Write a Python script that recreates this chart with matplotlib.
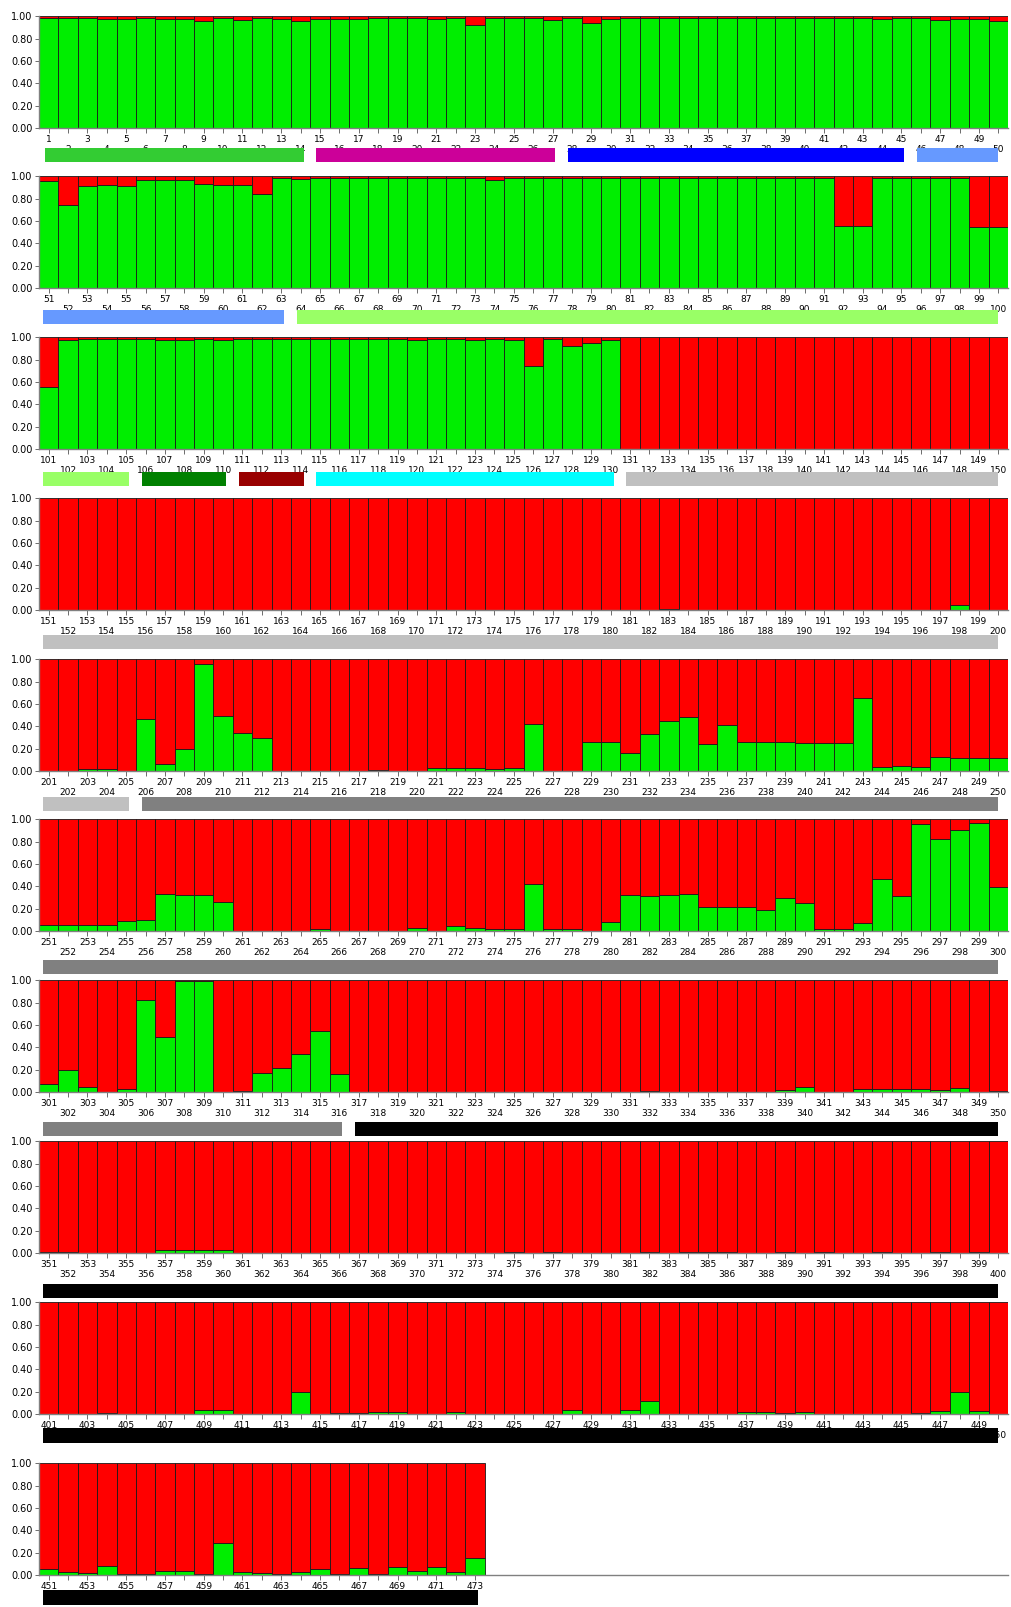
import matplotlib
matplotlib.use('Agg')
import matplotlib.pyplot as plt
import matplotlib.transforms as mtransforms
import numpy as np

# green (cluster 1) membership, 50 individuals per row; red = 1 - green
row1 = [0.985, 0.985, 0.985, 0.975, 0.975, 0.985, 0.98, 0.98, 0.96, 0.985,
        0.97, 0.985, 0.975, 0.96, 0.98, 0.98, 0.98, 0.985, 0.985, 0.985,
        0.975, 0.985, 0.92, 0.985, 0.985, 0.985, 0.97, 0.985, 0.94, 0.975,
        0.985, 0.985, 0.985, 0.985, 0.985, 0.985, 0.985, 0.985, 0.985, 0.985,
        0.985, 0.985, 0.985, 0.975, 0.985, 0.985, 0.965, 0.98, 0.98, 0.96]
row2 = [0.96, 0.745, 0.915, 0.92, 0.915, 0.97, 0.97, 0.97, 0.93, 0.925,
        0.925, 0.845, 0.99, 0.98, 0.99, 0.99, 0.99, 0.99, 0.99, 0.99,
        0.99, 0.99, 0.99, 0.97, 0.99, 0.99, 0.99, 0.99, 0.99, 0.99,
        0.99, 0.99, 0.99, 0.99, 0.99, 0.99, 0.99, 0.99, 0.99, 0.99,
        0.99, 0.555, 0.555, 0.99, 0.99, 0.99, 0.99, 0.99, 0.545, 0.55]
row3 = [0.555, 0.975, 0.99, 0.99, 0.99, 0.99, 0.98, 0.98, 0.99, 0.98,
        0.99, 0.99, 0.99, 0.99, 0.99, 0.99, 0.99, 0.99, 0.99, 0.98,
        0.99, 0.99, 0.975, 0.99, 0.98, 0.745, 0.99, 0.92, 0.95, 0.975,
        0, 0, 0, 0, 0, 0, 0, 0, 0, 0,
        0, 0, 0, 0, 0, 0, 0, 0, 0, 0]
row4 = [0, 0, 0, 0, 0, 0, 0, 0, 0, 0,
        0, 0, 0, 0, 0, 0, 0, 0, 0, 0,
        0, 0, 0, 0, 0, 0, 0, 0, 0, 0,
        0, 0, 0.01, 0, 0, 0, 0, 0, 0, 0,
        0, 0, 0, 0, 0, 0, 0, 0.045, 0, 0]
row5 = [0.005, 0.005, 0.015, 0.015, 0.005, 0.467, 0.06, 0.195, 0.96, 0.497,
        0.342, 0.298, 0.005, 0.005, 0.005, 0.005, 0.005, 0.012, 0.005, 0.005,
        0.03, 0.03, 0.03, 0.02, 0.03, 0.42, 0.005, 0.005, 0.256, 0.256,
        0.158, 0.336, 0.45, 0.48, 0.238, 0.408, 0.26, 0.26, 0.26, 0.253,
        0.253, 0.253, 0.65, 0.035, 0.045, 0.035, 0.13, 0.12, 0.12, 0.12]
row6 = [0.055, 0.055, 0.055, 0.055, 0.092, 0.10, 0.336, 0.325, 0.325, 0.262,
        0.005, 0.005, 0.005, 0.005, 0.02, 0.005, 0.005, 0.005, 0.005, 0.03,
        0.005, 0.05, 0.025, 0.015, 0.015, 0.42, 0.015, 0.015, 0.005, 0.078,
        0.327, 0.318, 0.325, 0.336, 0.217, 0.217, 0.217, 0.187, 0.295, 0.253,
        0.015, 0.015, 0.07, 0.47, 0.318, 0.96, 0.827, 0.908, 0.967, 0.396]
row7 = [0.07, 0.2, 0.045, 0.005, 0.03, 0.827, 0.49, 0.99, 0.99, 0.005,
        0.01, 0.167, 0.214, 0.345, 0.545, 0.164, 0.003, 0.003, 0.003, 0.003,
        0.003, 0.003, 0.003, 0.003, 0.003, 0.003, 0.003, 0.003, 0.003, 0.003,
        0.003, 0.01, 0.003, 0.003, 0.003, 0.003, 0.003, 0.003, 0.02, 0.05,
        0.003, 0.003, 0.03, 0.03, 0.03, 0.03, 0.02, 0.04, 0.005, 0.01]
row8 = [0.01, 0.01, 0.005, 0.005, 0.005, 0.005, 0.025, 0.025, 0.025, 0.025,
        0.005, 0.005, 0.005, 0.005, 0.005, 0.005, 0.005, 0.005, 0.005, 0.005,
        0.005, 0.005, 0.005, 0.005, 0.01, 0.005, 0.01, 0.005, 0.005, 0.005,
        0.005, 0.01, 0.005, 0.01, 0.01, 0.01, 0.005, 0.005, 0.01, 0.005,
        0.01, 0.005, 0.005, 0.01, 0.005, 0.005, 0.01, 0.005, 0.01, 0.005]
row9 = [0.005, 0.005, 0.005, 0.01, 0.005, 0.005, 0.005, 0.005, 0.04, 0.04,
        0.005, 0.005, 0.005, 0.2, 0.005, 0.01, 0.01, 0.015, 0.015, 0.005,
        0.005, 0.015, 0.005, 0.005, 0.005, 0.005, 0.005, 0.04, 0.005, 0.005,
        0.04, 0.12, 0.003, 0.003, 0.003, 0.003, 0.015, 0.015, 0.01, 0.015,
        0.005, 0.005, 0.005, 0.005, 0.005, 0.01, 0.025, 0.195, 0.025, 0.005]
row10 = [0.05, 0.03, 0.02, 0.08, 0.005, 0.005, 0.04, 0.04, 0.005, 0.285,
         0.03, 0.02, 0.005, 0.03, 0.05, 0.005, 0.06, 0.01, 0.07, 0.04,
         0.07, 0.025, 0.15]
rows = [row1, row2, row3, row4, row5, row6, row7, row8, row9, row10]

# populations: first individual, last individual, colour
pop_first = [1, 15, 28, 46, 64, 106, 111, 115, 131, 206, 317]
pop_last = [14, 27, 45, 63, 105, 110, 114, 130, 205, 316, 473]
pop_colors = ['#33cc33', '#cc0099', '#0000ff', '#6699ff', '#99ff66', '#008000',
              '#990000', '#00ffff', '#c0c0c0', '#808080', '#000000']

GREEN = '#00ee00'
RED = '#ff0000'
W, H = 1011, 1607
PER_ROW = 50

# layout in pixels
panel_top = [16.4, 176.4, 337.4, 498.3, 659.3, 819.3, 980.3, 1141.3, 1302.3, 1463.2]
panel_h = 111.8
bar_top = [147.7, 309.7, 471.7, 634.7, 796.7, 959.8, 1121.8, 1283.8, 1428.4, 1590.4]
bar_h = 14.4
ax_left, ax_right = 39, 1008

fig = plt.figure(figsize=(W / 100, H / 100), dpi=100)
font = ['Liberation Sans Narrow', 'DejaVu Sans']

for r, vals in enumerate(rows):
    ax = fig.add_axes([ax_left / W, 1 - (panel_top[r] + panel_h) / H,
                       (ax_right - ax_left) / W, panel_h / H])
    g = np.array(vals)
    ids = np.arange(r * PER_ROW + 1, r * PER_ROW + 1 + len(g))
    x = np.arange(1, len(g) + 1)
    ax.bar(x, g, width=1.0, color=GREEN, edgecolor='#1a1a1a', linewidth=0.6)
    ax.bar(x, 1 - g, bottom=g, width=1.0, color=RED, edgecolor='#1a1a1a', linewidth=0.6)
    ax.set_xlim(0.5, PER_ROW + 0.5)
    ax.set_ylim(0, 1.0)
    for s in ['top', 'right']:
        ax.spines[s].set_visible(False)
    for s in ['left', 'bottom']:
        ax.spines[s].set_color('#808080')
        ax.spines[s].set_linewidth(1.0)
    ax.set_yticks(np.arange(0, 1.01, 0.2))
    ax.set_yticklabels(['%.2f' % v for v in np.arange(0, 1.01, 0.2)],
                       fontsize=7, family=font)
    odd = x[::2]
    even = x[1::2]
    ax.set_xticks(odd)
    ax.set_xticklabels([str(i) for i in ids[::2]], fontsize=6.5, family=font)
    ax.set_xticks(even, minor=True)
    ax.set_xticklabels([str(i) for i in ids[1::2]], minor=True, fontsize=6.5, family=font)
    ax.tick_params(axis='x', which='major', length=3.5, width=0.6, color='#555555', pad=1.5)
    ax.tick_params(axis='x', which='minor', length=3.5, width=0.6, color='#555555', pad=8.5)
    ax.tick_params(axis='y', length=3, width=0.6, color='#555555', pad=1.5)

    # population bars under this row
    trans = mtransforms.blended_transform_factory(ax.transData, fig.transFigure)
    row_first = r * PER_ROW + 1
    row_last = r * PER_ROW + PER_ROW
    for f, l, c in zip(pop_first, pop_last, pop_colors):
        if l < row_first or f > row_last:
            continue
        x0 = (f - row_first + 1) - 0.5 + 0.3 if f >= row_first else 0.7
        x1 = (l - row_first + 1) + 0.5 - 0.35 if l <= row_last else PER_ROW
        y0 = 1 - (bar_top[r] + bar_h) / H
        ax.add_patch(plt.Rectangle((x0, y0), x1 - x0, bar_h / H, transform=trans,
                                   facecolor=c, edgecolor='none', clip_on=False, zorder=5))

fig.savefig('out.png', dpi=100, facecolor='white')
